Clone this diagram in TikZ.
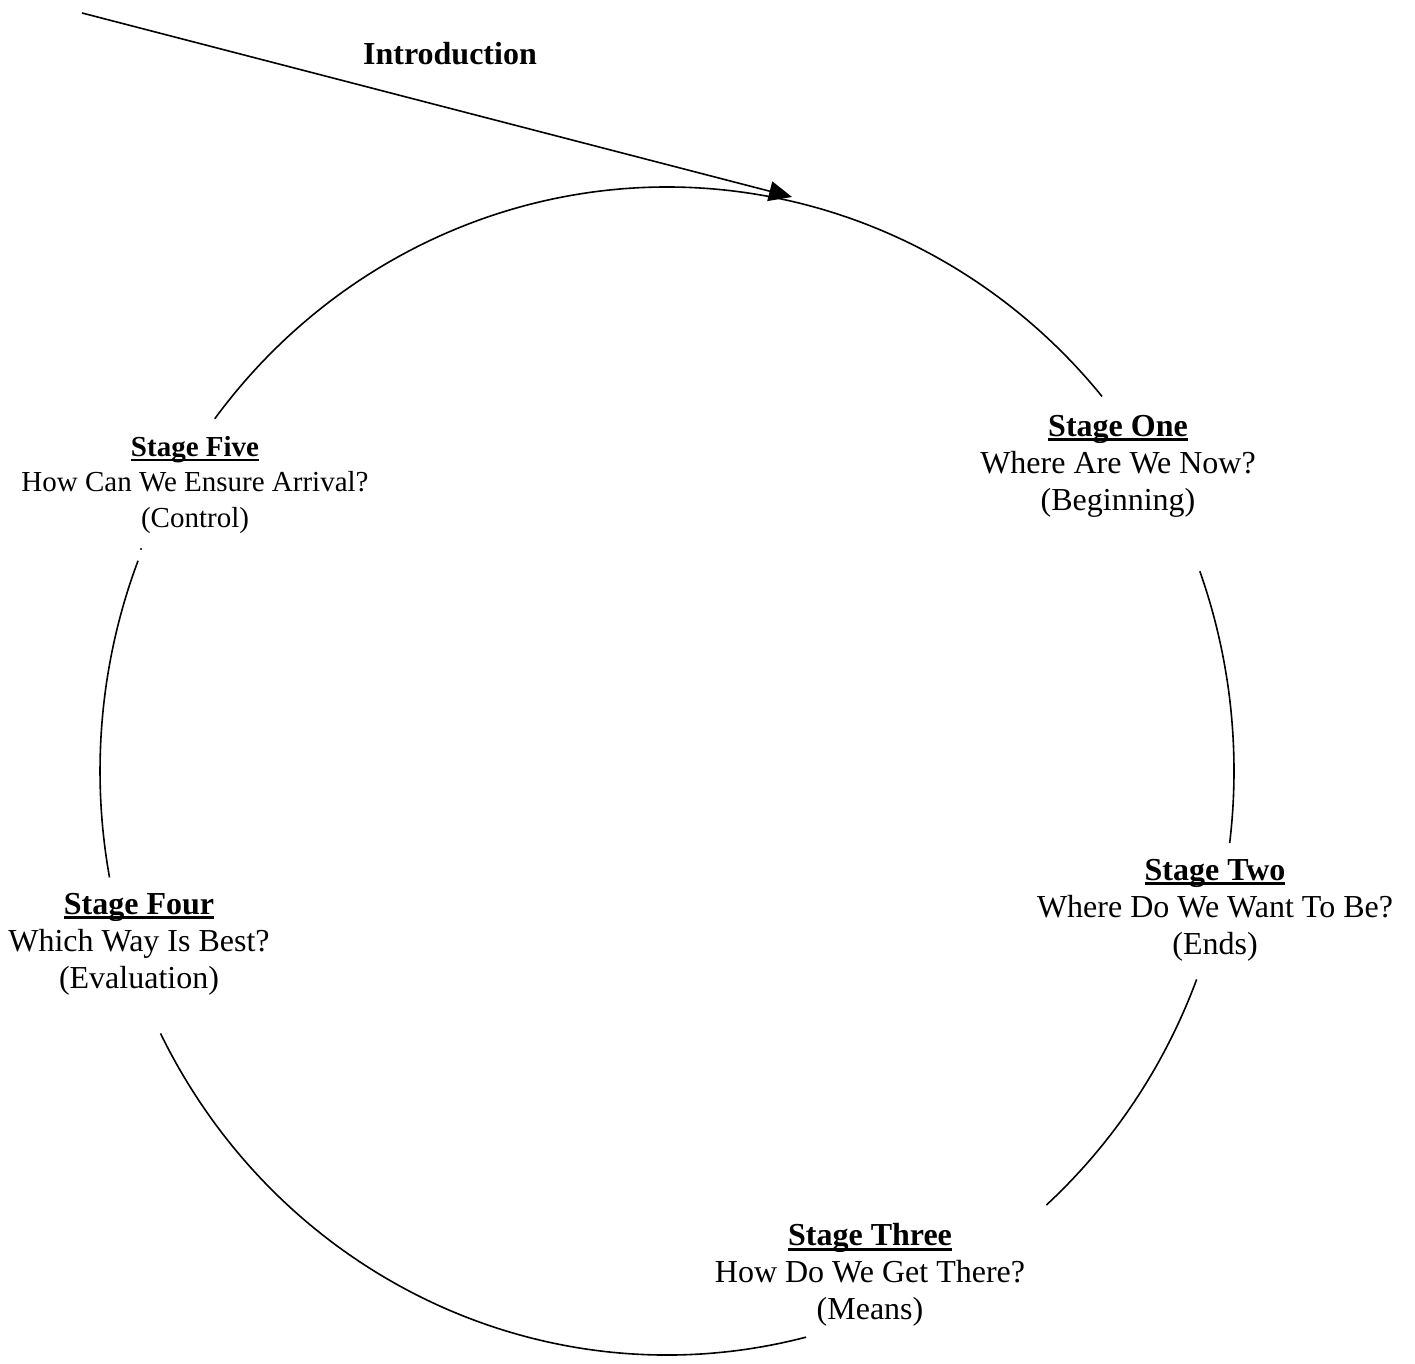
\documentclass[tikz,border=0pt]{standalone}
\usepackage{fontspec}
\setmainfont{Liberation Serif}
\usetikzlibrary{arrows.meta}
\newcommand\stageul[1]{\setbox0\hbox{#1}\rlap{\rule[-5pt]{\wd0}{2.8pt}}\box0}
\tikzset{
  lbl/.style={align=center, inner sep=0pt, font=\fontsize{32}{37}\selectfont},
  lblsmall/.style={align=center, inner sep=0pt, font=\fontsize{29}{35.5}\selectfont},
  ring/.style={line width=1.6pt},
  intro/.style={line width=1.6pt, -{Triangle[length=23pt,width=20pt]}}
}
\begin{document}
\begin{tikzpicture}[x=1pt,y=1pt]
\useasboundingbox (0,0) rectangle (1415,1363);
\fill[white] (0,0) rectangle (1415,1363);
\coordinate (C) at (667,592);
% circle arcs
\draw[ring] ([shift={(142.9:567pt and 584pt)}]C) arc[start angle=142.9, end angle=39.9, x radius=567pt, y radius=584pt];
\draw[ring] ([shift={(20.0:567pt and 584pt)}]C) arc[start angle=20.0, end angle=-7.1, x radius=567pt, y radius=584pt];
\draw[ring] ([shift={(-20.9:567pt and 584pt)}]C) arc[start angle=-20.9, end angle=-48.0, x radius=567pt, y radius=584pt];
\draw[ring] ([shift={(-75.8:567pt and 584pt)}]C) arc[start angle=-75.8, end angle=-153.3, x radius=567pt, y radius=584pt];
\draw[ring] ([shift={(190.5:567pt and 584pt)}]C) arc[start angle=190.5, end angle=158.9, x radius=567pt, y radius=584pt];
\fill (141,814) circle (1.2pt);
% introduction arrow
\coordinate (istart) at (82,1350);
\coordinate (itip) at (792,1166);
\draw[intro] (istart) -- (itip);
\node[lbl, font=\fontsize{32}{37}\selectfont\bfseries] (intro) at (450,1309) {Introduction};
% stage labels
\node[lbl] (s1) at (1118,897) {\textbf{\stageul{Stage One}}\\Where Are We Now?\\(Beginning)};
\node[lbl] (s2) at (1215,453) {\textbf{\stageul{Stage Two}}\\Where Do We Want To Be?\\(Ends)};
\node[lbl] (s3) at (870,88) {\textbf{\stageul{Stage Three}}\\How Do We Get There?\\(Means)};
\node[lbl] (s4) at (139,419) {\textbf{\stageul{Stage Four}}\\Which Way Is Best?\\(Evaluation)};
\node[lblsmall] (s5) at (195,878) {\textbf{\stageul{Stage Five}}\\How Can We Ensure Arrival?\\(Control)};
\end{tikzpicture}
\end{document}
